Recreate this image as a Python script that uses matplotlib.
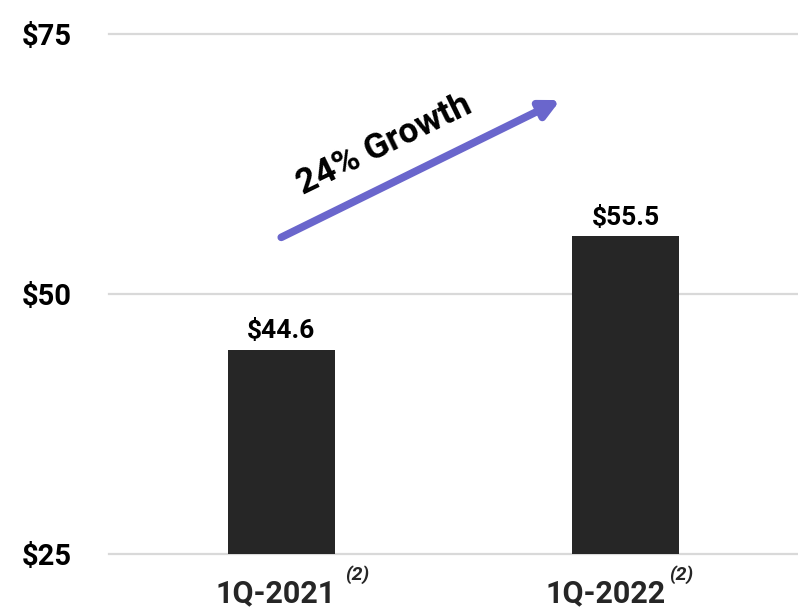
import matplotlib.pyplot as plt

plt.rcParams['font.family'] = ['Roboto', 'DejaVu Sans']

quarters = ['1Q-2021', '1Q-2022']
revenue = [44.6, 55.5]
value_labels = ['$44.6', '$55.5']
y_ticks = [25, 50, 75]
y_tick_labels = ['$25', '$50', '$75']
footnote = '(2)'
growth_text = '24% Growth'

fig = plt.figure(figsize=(7.98, 6.07), dpi=100)
ax = fig.add_axes([0.1366, 0.0881, 0.8634, 0.8567])

x = list(range(len(quarters)))
ax.bar(x, revenue, width=0.31, color='#262626', zorder=3)

for xi, val, lab in zip(x, revenue, value_labels):
    ax.annotate(lab, (xi, val), xytext=(0, 4.5), textcoords='offset points',
                ha='center', va='bottom', fontsize=19, fontweight='bold', color='black')

ax.set_xlim(-0.5, 1.5)
ax.set_ylim(25, 75)
ax.set_yticks(y_ticks)
ax.set_yticklabels(y_tick_labels, fontsize=21, fontweight='bold')
ax.tick_params(axis='y', length=0, pad=27)
ax.set_xticks([])

for y in y_ticks:
    ax.axhline(y, color='#d9d9d9', lw=1.6, zorder=1, clip_on=False)
for s in ax.spines.values():
    s.set_visible(False)

# category labels with the footnote marker
xform = ax.get_xaxis_transform()
label_dx = [-0.017, -0.06]
sup_dx = [0.22, 0.16]
for xi, name, dx, sdx in zip(x, quarters, label_dx, sup_dx):
    ax.text(xi + dx, -0.093, name, transform=xform, ha='center', va='baseline',
            fontsize=22, fontweight='bold', color='#262626')
    ax.text(xi + sdx, -0.05, footnote, transform=xform, ha='center', va='baseline',
            fontsize=14, fontweight='bold', fontstyle='italic', color='#262626')

# growth arrow
ax.annotate('', xy=(0.81, 68.6), xytext=(0.0, 55.4),
            arrowprops=dict(arrowstyle='-|>,head_length=1.1,head_width=0.55',
                            color='#6a66cc', lw=5.5, shrinkA=0, shrinkB=0),
            zorder=4)
ax.text(0.30, 64.3, growth_text, rotation=26, ha='center', va='center',
        fontsize=25.5, fontweight='bold', color='black', rotation_mode='anchor')

fig.savefig('out.png', dpi=100)
